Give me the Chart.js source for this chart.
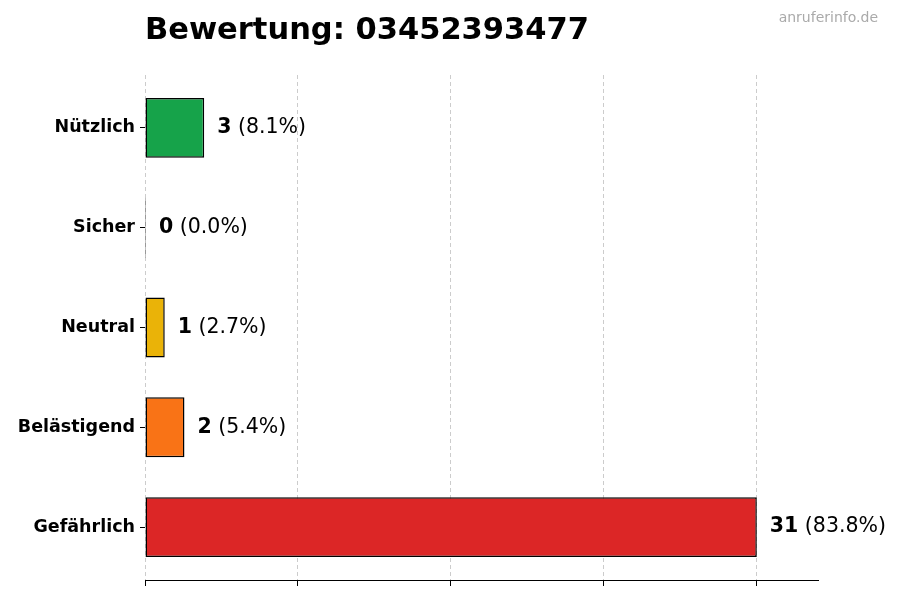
<!DOCTYPE html>
<html>
<head>
<meta charset="utf-8">
<script src="https://cdn.jsdelivr.net/npm/chart.js@4/dist/chart.umd.min.js"></script>
<style>
  html, body { margin: 0; padding: 0; background: #fff; }
  #wrap { width: 900px; height: 600px; }
</style>
</head>
<body>
<div id="wrap"><canvas id="ratingChart"></canvas></div>
<script>
const chartTitle = 'Bewertung: 03452393477';
const watermark = 'anruferinfo.de';
const categories = ['Nützlich', 'Sicher', 'Neutral', 'Belästigend', 'Gefährlich'];
const counts = [3, 0, 1, 2, 31];
const barColors = ['#16a34a', '#9ca3af', '#eab308', '#f97316', '#dc2626'];
const xTicks = [0, 7.75, 15.5, 23.25, 31];
const xMax = 34.1;
const yMin = -0.53;
const yMax = 4.53;

const total = counts.reduce((a, b) => a + b, 0);
const FONT = '"DejaVu Sans", sans-serif';

const textPlugin = {
    id: 'textPlugin',
    afterDatasetsDraw(chart) {
        const ctx = chart.ctx;
        const meta = chart.getDatasetMeta(0);
        ctx.save();
        ctx.textBaseline = 'middle';
        ctx.fillStyle = '#000';
        meta.data.forEach((bar, i) => {
            const v = counts[i];
            const pct = ' (' + (v / total * 100).toFixed(1) + '%)';
            let x = bar.x + 13;
            ctx.font = 'bold 20.5px ' + FONT;
            ctx.textAlign = 'left';
            ctx.fillText(String(v), x, bar.y);
            x += ctx.measureText(String(v)).width;
            ctx.font = '20.5px ' + FONT;
            ctx.fillText(pct, x, bar.y);
        });
        ctx.restore();
    },
    afterDraw(chart) {
        const ctx = chart.ctx;
        ctx.save();
        ctx.textBaseline = 'middle';
        ctx.fillStyle = '#000';
        ctx.font = 'bold 30.5px ' + FONT;
        ctx.textAlign = 'left';
        ctx.fillText(chartTitle, chart.chartArea.left, 31);
        ctx.fillStyle = '#aaaaaa';
        ctx.font = '14px ' + FONT;
        ctx.textAlign = 'right';
        ctx.fillText(watermark, 878, 18);
        ctx.restore();
    }
};

new Chart(document.getElementById('ratingChart'), {
    type: 'bar',
    data: {
        datasets: [{
            data: counts.map((v, i) => ({ x: v, y: i })),
            backgroundColor: barColors,
            borderColor: '#000',
            borderWidth: 1.5,
            borderSkipped: false,
            minBarLength: 1,
            barPercentage: 0.6,
            categoryPercentage: 1.0
        }]
    },
    options: {
        indexAxis: 'y',
        responsive: true,
        maintainAspectRatio: false,
        animation: false,
        layout: { padding: { left: 0, right: 82, top: 75, bottom: 0 } },
        plugins: {
            legend: { display: false },
            title: { display: false },
            tooltip: { enabled: false }
        },
        scales: {
            x: {
                type: 'linear',
                min: 0,
                max: xMax,
                afterBuildTicks(scale) {
                    scale.ticks = xTicks.map(v => ({ value: v }));
                },
                afterFit(scale) { scale.height = 20; },
                ticks: { display: false },
                grid: {
                    color: 'rgba(0,0,0,0.2)',
                    tickBorderDash: [],
                    tickColor: '#000',
                    tickLength: 6,
                    drawTicks: true
                },
                border: { display: true, color: '#000', width: 1, dash: [4, 3] }
            },
            y: {
                type: 'linear',
                reverse: true,
                offset: false,
                min: yMin,
                max: yMax,
                afterBuildTicks(scale) {
                    scale.ticks = categories.map((c, i) => ({ value: i }));
                },
                afterFit(scale) { scale.width = 145; },
                ticks: {
                    color: '#000',
                    padding: 5,
                    callback: (v) => categories[v],
                    font: { family: FONT, size: 17.5, weight: 'bold' }
                },
                grid: {
                    offset: false,
                    drawOnChartArea: false,
                    drawTicks: true,
                    tickLength: 5,
                    tickColor: '#000',
                    color: 'rgba(0,0,0,0)'
                },
                border: { display: false }
            }
        }
    },
    plugins: [textPlugin]
});
</script>
</body>
</html>
